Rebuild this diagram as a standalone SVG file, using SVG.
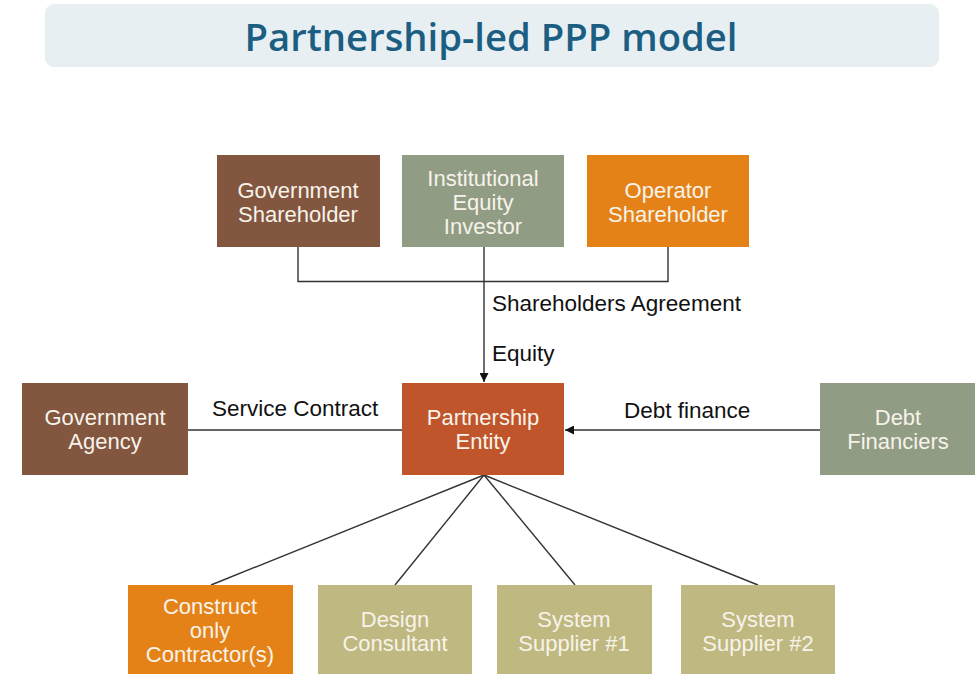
<svg xmlns="http://www.w3.org/2000/svg" width="979" height="674" viewBox="0 0 979 674">
<defs>
<style>
.box text{font-family:"Liberation Sans",Arial,sans-serif;font-size:22px;fill:#f7f3ea;text-anchor:middle}
.lbl{font-family:"Liberation Sans",Arial,sans-serif;font-size:22.5px;fill:#111}
.conn line,.conn path{stroke:#333;stroke-width:1.4;fill:none}
.brown{fill:#835640}.sage{fill:#909c84}.orange{fill:#e48218}.rust{fill:#c0552b}.khaki{fill:#bfb880}
</style>
<marker id="arr" viewBox="0 0 10 10" refX="10" refY="5" markerWidth="10" markerHeight="9" markerUnits="userSpaceOnUse" orient="auto">
<path d="M0,0 L10,5 L0,10 Z" fill="#111"/>
</marker>
</defs>
<rect width="979" height="674" fill="#ffffff"/>
<g id="title">
<rect x="45" y="4" width="894" height="63" rx="9" fill="#e8eff3"/>
<text x="491" y="51" font-family="'Open Sans','Liberation Sans',sans-serif" font-weight="600" font-size="38" fill="#1b5e82" text-anchor="middle" textLength="493" lengthAdjust="spacingAndGlyphs">Partnership-led PPP model</text>
</g>
<g class="conn" id="connectors">
<path d="M298,247 V281.5 H668 V247"/>
<line x1="484" y1="247" x2="484" y2="382" marker-end="url(#arr)"/>
<line x1="188" y1="430" x2="402" y2="430"/>
<line x1="820" y1="430" x2="565" y2="430" marker-end="url(#arr)"/>
<line x1="484" y1="475" x2="211" y2="585"/>
<line x1="484" y1="475" x2="395" y2="585"/>
<line x1="484" y1="475" x2="575" y2="585"/>
<line x1="484" y1="475" x2="758" y2="585"/>
</g>
<g id="labels">
<text class="lbl" x="492" y="311">Shareholders Agreement</text>
<text class="lbl" x="492" y="361">Equity</text>
<text class="lbl" x="212" y="416">Service Contract</text>
<text class="lbl" x="624" y="418">Debt finance</text>
</g>
<g class="box" id="gov-shareholder">
<rect class="brown" x="217" y="155" width="163" height="92"/>
<text x="298" y="198">Government</text><text x="298" y="222">Shareholder</text>
</g>
<g class="box" id="institutional-investor">
<rect class="sage" x="402" y="155" width="162" height="92"/>
<text x="483" y="186">Institutional</text><text x="483" y="210">Equity</text><text x="483" y="234">Investor</text>
</g>
<g class="box" id="operator-shareholder">
<rect class="orange" x="587" y="155" width="162" height="92"/>
<text x="668" y="198">Operator</text><text x="668" y="222">Shareholder</text>
</g>
<g class="box" id="government-agency">
<rect class="brown" x="22" y="383" width="166" height="92"/>
<text x="105" y="425">Government</text><text x="105" y="449">Agency</text>
</g>
<g class="box" id="partnership-entity">
<rect class="rust" x="402" y="383" width="162" height="92"/>
<text x="483" y="425">Partnership</text><text x="483" y="449">Entity</text>
</g>
<g class="box" id="debt-financiers">
<rect class="sage" x="820" y="383" width="155" height="92"/>
<text x="898" y="425">Debt</text><text x="898" y="449">Financiers</text>
</g>
<g class="box" id="construct-contractor">
<rect class="orange" x="128" y="585" width="165" height="95"/>
<text x="210" y="614">Construct</text><text x="210" y="638">only</text><text x="210" y="662">Contractor(s)</text>
</g>
<g class="box" id="design-consultant">
<rect class="khaki" x="318" y="585" width="154" height="95"/>
<text x="395" y="627">Design</text><text x="395" y="651">Consultant</text>
</g>
<g class="box" id="system-supplier-1">
<rect class="khaki" x="497" y="585" width="155" height="95"/>
<text x="574" y="627">System</text><text x="574" y="651">Supplier #1</text>
</g>
<g class="box" id="system-supplier-2">
<rect class="khaki" x="681" y="585" width="154" height="95"/>
<text x="758" y="627">System</text><text x="758" y="651">Supplier #2</text>
</g>
</svg>
